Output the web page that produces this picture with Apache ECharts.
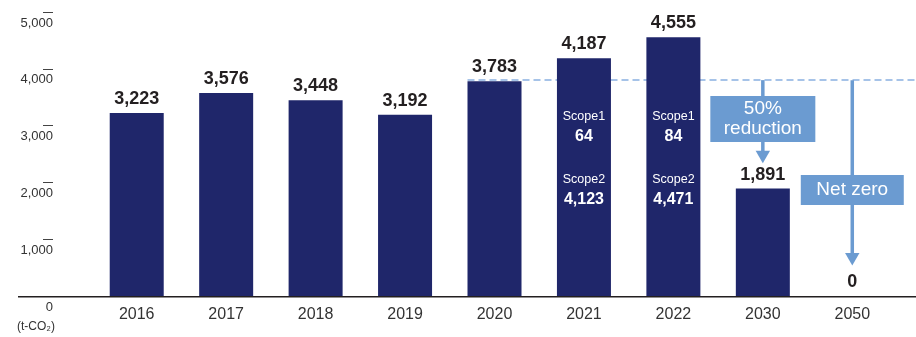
<!DOCTYPE html>
<html>
<head>
<meta charset="utf-8">
<script src="https://cdn.jsdelivr.net/npm/echarts@6/dist/echarts.min.js"></script>
<style>
  html, body { margin: 0; padding: 0; background: #fff; }
  #chart { width: 916px; height: 337px; }
</style>
</head>
<body>
<div id="chart"></div>
<script>
// Annual CO2 emissions (t-CO2) and reduction targets
const years = ['2016', '2017', '2018', '2019', '2020', '2021', '2022', '2030', '2050'];
const emissions = [3223, 3576, 3448, 3192, 3783, 4187, 4555, 1891, 0];
const scope1 = [null, null, null, null, null, 64, 84, null, null];
const scope2 = [null, null, null, null, null, 4123, 4471, null, null];
const yTicks = [0, 1000, 2000, 3000, 4000, 5000];

const baseYear = '2020';
const targetYears = ['2030', '2050'];
const targetLabels = ['50%\nreduction', 'Net zero'];

// Annotation geometry (in axis values / pixels)
const targetLayout = [
  { tip: 2336, box: 3118, w: 105, h: 46 },
  { tip: 537, box: 1866, w: 103, h: 30 }
];

const FONT = '"Liberation Sans", Arial, Helvetica, sans-serif';
const NAVY = '#1f266a';
const ARROW = '#6b9bd1';
const DASH = '#a6c3e8';
const BAR_W = 54;
const fmt = v => Number(v).toLocaleString('en-US');

const baseValue = emissions[years.indexOf(baseYear)];

const chart = echarts.init(document.getElementById('chart'));

chart.setOption({
  animation: false,
  textStyle: { fontFamily: FONT },
  grid: { left: 92, right: 19, top: 12, bottom: 41 },
  xAxis: {
    type: 'category',
    data: years,
    axisLine: { show: false },
    axisTick: { show: false },
    axisLabel: { color: '#333', fontSize: 16, margin: 11, fontFamily: FONT }
  },
  yAxis: {
    type: 'value',
    min: yTicks[0],
    max: yTicks[yTicks.length - 1],
    interval: yTicks[1] - yTicks[0],
    offset: 39,
    splitLine: { show: false },
    axisLine: { show: false },
    axisTick: { show: true, length: 10, lineStyle: { color: '#444', width: 1 } },
    axisLabel: {
      margin: 0,
      color: '#333',
      fontSize: 13,
      fontFamily: FONT,
      verticalAlign: 'top',
      lineHeight: 14,
      padding: [4, 0, 0, 0],
      formatter: v => fmt(v)
    }
  },
  graphic: [{
    type: 'text',
    left: 17,
    top: 321,
    style: { text: '(t-CO₂)', fontSize: 12, fill: '#333', fontFamily: FONT }
  }],
  series: [
    {
      // dashed reference line at the base-year level, drawn behind the bars
      type: 'custom',
      z: 1,
      silent: true,
      data: [[baseYear, baseValue]],
      renderItem: (params, api) => {
        const p = api.coord([api.value(0), api.value(1)]);
        const y = Math.round(p[1]) - 1;
        return {
          type: 'line',
          shape: { x1: p[0] - BAR_W / 2, y1: y, x2: api.getWidth(), y2: y },
          style: { stroke: DASH, lineWidth: 2, lineDash: [7, 4] }
        };
      }
    },
    {
      type: 'bar',
      name: 'Emissions',
      z: 2,
      barWidth: BAR_W,
      barGap: '-100%',
      data: emissions,
      itemStyle: { color: NAVY },
      label: {
        show: true,
        position: 'top',
        distance: 5,
        color: '#231f20',
        fontSize: 18,
        fontWeight: 'bold',
        lineHeight: 18,
        fontFamily: FONT,
        formatter: p => fmt(p.value)
      }
    },
    {
      // scope breakdown written inside the bars
      type: 'bar',
      name: 'Scope',
      z: 2,
      barWidth: BAR_W,
      barGap: '-100%',
      silent: true,
      data: emissions.map((v, i) => scope1[i] == null ? '-' : v),
      itemStyle: { color: 'rgba(0,0,0,0)' },
      label: {
        show: true,
        position: 'insideBottom',
        distance: 86,
        color: '#fff',
        fontFamily: FONT,
        formatter: p => {
          const i = p.dataIndex;
          return '{n|Scope1}\n{v|' + fmt(scope1[i]) + '}\n{g| }\n{n|Scope2}\n{v|' + fmt(scope2[i]) + '}';
        },
        rich: {
          n: { fontSize: 12.5, lineHeight: 20, color: '#fff', fontFamily: FONT },
          v: { fontSize: 16, fontWeight: 'bold', lineHeight: 20, color: '#fff', fontFamily: FONT },
          g: { fontSize: 10, lineHeight: 23 }
        }
      }
    },
    {
      // horizontal axis line across the full width
      type: 'custom',
      z: 3,
      silent: true,
      data: [[years[0], 0]],
      renderItem: (params, api) => {
        const y = api.coord([api.value(0), api.value(1)])[1] + 0.75;
        return {
          type: 'line',
          shape: { x1: 18, y1: y, x2: api.getWidth(), y2: y },
          style: { stroke: '#231f20', lineWidth: 1.5 }
        };
      }
    },
    {
      // target arrows and their captions
      type: 'custom',
      z: 4,
      silent: true,
      data: targetYears.map((y, i) => [y, baseValue, targetLayout[i].tip, targetLayout[i].box]),
      renderItem: (params, api) => {
        const i = params.dataIndex;
        const L = targetLayout[i];
        const cat = api.value(0);
        const cx = api.coord([cat, 0])[0];
        const y0 = api.coord([cat, api.value(1)])[1] - 1;
        const yTip = api.coord([cat, api.value(2)])[1];
        const yBox = api.coord([cat, api.value(3)])[1];
        return {
          type: 'group',
          children: [
            { type: 'line', shape: { x1: cx, y1: y0, x2: cx, y2: yTip - 8 }, style: { stroke: ARROW, lineWidth: 3.5 } },
            { type: 'polygon', shape: { points: [[cx - 7.2, yTip - 12.6], [cx + 7.2, yTip - 12.6], [cx, yTip]] }, style: { fill: ARROW } },
            { type: 'rect', shape: { x: cx - L.w / 2, y: yBox - L.h / 2, width: L.w, height: L.h }, style: { fill: ARROW } },
            {
              type: 'text',
              style: {
                text: targetLabels[i], x: cx, y: yBox,
                align: 'center', verticalAlign: 'middle',
                fill: '#fff', fontSize: 19, lineHeight: 20, fontFamily: FONT
              }
            }
          ]
        };
      }
    }
  ]
});
</script>
</body>
</html>
